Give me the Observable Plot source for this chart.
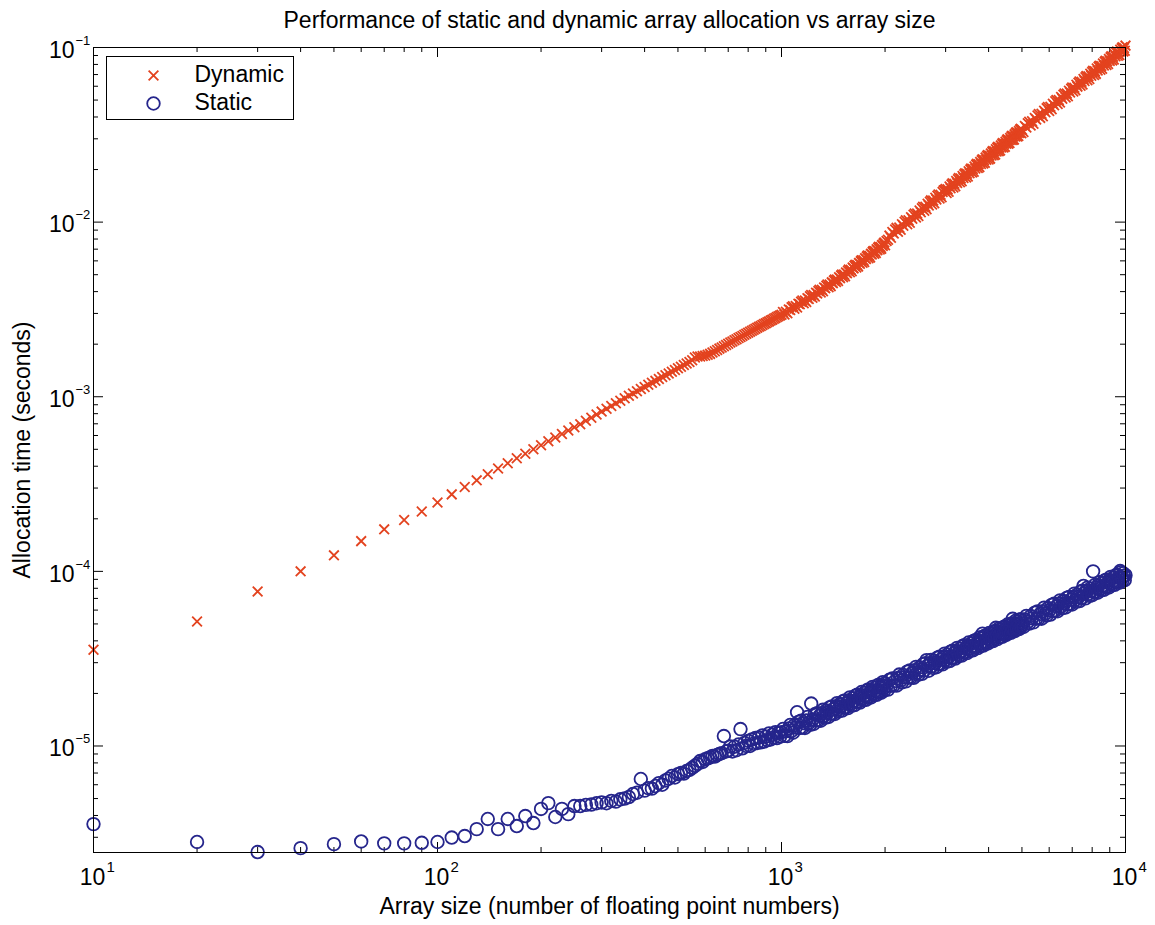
<!DOCTYPE html>
<html><head><meta charset="utf-8">
<script src="https://cdn.jsdelivr.net/npm/d3@7"></script>
<script src="https://cdn.jsdelivr.net/npm/@observablehq/plot@0.6"></script>
<style>body{margin:0;background:#fff} svg{display:block}</style>
</head><body><div id="chart"></div>
<script>
// Array sizes (number of floating point numbers)
const sizes = [
10,20,30,40,50,60,70,80,90,100,110,120,130,140,150,160,170,180,190,200,
210,220,230,240,250,260,270,280,290,300,310,320,330,340,350,360,370,380,390,400,
410,420,430,440,450,460,470,480,490,500,510,520,530,540,550,560,570,580,590,600,
610,620,630,640,650,660,670,680,690,700,710,720,730,740,750,760,770,780,790,800,
810,820,830,840,850,860,870,880,890,900,910,920,930,940,950,960,970,980,990,1000,
1010,1020,1030,1040,1050,1060,1070,1080,1090,1100,1110,1120,1130,1140,1150,1160,1170,1180,1190,1200,
1210,1220,1230,1240,1250,1260,1270,1280,1290,1300,1310,1320,1330,1340,1350,1360,1370,1380,1390,1400,
1410,1420,1430,1440,1450,1460,1470,1480,1490,1500,1510,1520,1530,1540,1550,1560,1570,1580,1590,1600,
1610,1620,1630,1640,1650,1660,1670,1680,1690,1700,1710,1720,1730,1740,1750,1760,1770,1780,1790,1800,
1810,1820,1830,1840,1850,1860,1870,1880,1890,1900,1910,1920,1930,1940,1950,1960,1970,1980,1990,2000,
2020,2040,2060,2080,2100,2120,2140,2160,2180,2200,2220,2240,2260,2280,2300,2320,2340,2360,2380,2400,2420,2440,2460,2480,2500,
2520,2540,2560,2580,2600,2620,2640,2660,2680,2700,2720,2740,2760,2780,2800,2820,2840,2860,2880,2900,2920,2940,2960,2980,3000,
3020,3040,3060,3080,3100,3120,3140,3160,3180,3200,3220,3240,3260,3280,3300,3320,3340,3360,3380,3400,3420,3440,3460,3480,3500,
3520,3540,3560,3580,3600,3620,3640,3660,3680,3700,3720,3740,3760,3780,3800,3820,3840,3860,3880,3900,3920,3940,3960,3980,4000,
4020,4040,4060,4080,4100,4120,4140,4160,4180,4200,4220,4240,4260,4280,4300,4320,4340,4360,4380,4400,4420,4440,4460,4480,4500,
4520,4540,4560,4580,4600,4620,4640,4660,4680,4700,4720,4740,4760,4780,4800,4820,4840,4860,4880,4900,4920,4940,4960,4980,5000,
5050,5100,5150,5200,5250,5300,5350,5400,5450,5500,5550,5600,5650,5700,5750,5800,5850,5900,5950,6000,
6050,6100,6150,6200,6250,6300,6350,6400,6450,6500,6550,6600,6650,6700,6750,6800,6850,6900,6950,7000,
7050,7100,7150,7200,7250,7300,7350,7400,7450,7500,7550,7600,7650,7700,7750,7800,7850,7900,7950,8000,
8050,8100,8150,8200,8250,8300,8350,8400,8450,8500,8550,8600,8650,8700,8750,8800,8850,8900,8950,9000,
9050,9100,9150,9200,9250,9300,9350,9400,9450,9500,9550,9600,9650,9700,9750,9800,9850,9900,9950,10000];

// Dynamic allocation time (milliseconds)
const dynamicMs = [
0.0356,0.0516,0.0767,0.1000,0.1235,0.149,0.174,0.197,0.220,0.248,0.276,0.304,0.332,0.360,0.388,0.416,0.444,0.472,0.500,0.528,
0.556,0.584,0.612,0.640,0.668,0.696,0.728,0.759,0.791,0.822,0.854,0.886,0.917,0.949,0.980,1.012,1.044,1.075,1.107,1.138,
1.170,1.202,1.233,1.265,1.296,1.328,1.360,1.391,1.423,1.454,1.486,1.518,1.549,1.581,1.62,1.68,1.70,1.70,1.71,1.72,
1.74,1.76,1.791,1.823,1.854,1.886,1.917,1.948,1.980,2.011,2.042,2.074,2.105,2.137,2.168,2.199,2.231,2.262,2.293,2.325,
2.356,2.388,2.419,2.450,2.482,2.513,2.544,2.576,2.607,2.639,2.670,2.701,2.733,2.764,2.795,2.827,2.858,2.890,2.921,2.952,
3.061,2.959,3.068,3.010,3.164,3.135,3.250,3.301,3.190,3.305,3.242,3.411,3.381,3.503,3.554,3.433,3.558,3.487,3.668,3.633,
3.764,3.822,3.690,3.823,3.746,3.939,3.900,4.038,4.099,3.958,4.100,4.018,4.225,4.183,4.327,4.391,4.239,4.389,4.300,4.519,
4.474,4.631,4.699,4.535,4.692,4.595,4.829,4.778,4.945,5.015,4.841,5.012,4.905,5.154,5.098,5.274,5.349,5.161,5.340,5.227,
5.491,5.433,5.618,5.696,5.494,5.684,5.563,5.842,5.778,5.975,6.058,5.844,6.044,5.914,6.210,6.140,6.348,6.434,6.203,6.416,
6.279,6.592,6.516,6.736,6.825,6.581,6.805,6.657,6.987,6.905,7.138,7.233,6.972,7.208,7.049,7.398,7.311,7.556,7.655,7.377,
7.80,7.92,8.37,8.13,8.77,8.60,9.08,9.27,8.82,9.31,9.03,9.73,9.52,10.05,10.24,9.72,10.25,9.93,10.68,10.44,11.01,11.20,10.62,11.20,10.83,
11.65,11.40,12.02,12.23,11.61,12.24,11.84,12.73,12.44,13.10,13.32,12.63,13.30,12.84,13.80,13.47,14.17,14.40,13.64,14.35,13.86,14.87,15.20,15.25,15.48,
14.67,15.44,14.91,16.01,15.62,16.43,16.67,15.79,16.60,16.03,17.19,16.77,17.61,17.87,16.91,17.78,17.14,18.38,17.91,18.81,19.06,18.03,18.94,18.26,19.56,
19.07,20.02,20.31,19.21,20.17,19.44,20.84,20.30,21.31,21.60,20.42,21.44,20.65,22.12,21.54,22.60,22.90,21.63,22.70,21.87,23.41,22.78,23.89,24.19,22.84,
23.98,23.10,24.73,24.08,25.25,25.57,24.15,25.34,24.40,26.12,25.41,26.64,26.97,25.46,26.70,25.71,27.50,26.75,28.03,28.37,26.77,28.07,27.01,28.88,28.09,
29.43,29.79,28.11,29.48,28.36,30.34,29.50,30.91,31.27,29.51,30.93,29.75,31.81,30.93,32.38,32.76,30.89,32.38,31.13,33.28,32.34,33.87,34.24,32.29,33.82,
32.86,35.48,34.82,36.79,37.55,35.73,37.77,36.63,39.48,38.69,40.82,41.60,39.53,41.72,40.40,43.49,42.55,44.85,45.64,43.32,
45.73,44.28,47.67,46.65,49.17,50.04,47.50,50.08,48.44,52.08,50.92,53.60,54.50,51.67,54.43,52.59,56.50,55.17,58.04,58.95,
55.90,58.88,56.90,61.12,59.70,62.80,63.80,60.43,63.60,61.41,65.92,64.33,67.61,68.63,64.97,68.33,65.93,70.70,68.95,72.43,
73.53,69.61,73.19,70.63,75.76,73.88,77.61,78.72,74.48,78.28,75.48,80.91,78.85,82.78,83.93,79.36,83.36,80.33,86.06,83.83,
88.01,89.23,84.37,88.62,85.41,91.51,89.14,93.53,94.78,89.57,94.04,90.58,97.01,94.45,99.06,100.33,94.77,99.45,95.76,102.5];

// Static allocation time (microseconds)
const staticUs = [
3.57,2.82,2.47,2.60,2.74,2.84,2.77,2.77,2.79,2.82,2.99,3.05,3.34,3.82,3.34,3.82,3.48,3.97,3.62,4.36,
4.71,3.92,4.36,4.07,4.53,4.53,4.60,4.62,4.70,4.75,4.70,4.85,4.80,4.95,5.00,5.10,5.31,5.40,6.47,5.55,
5.74,5.70,5.90,6.13,6.00,6.35,6.50,6.73,6.60,6.90,7.00,6.95,7.19,7.30,7.50,7.70,7.90,8.20,8.10,8.40,
8.50,8.60,8.77,8.70,8.90,9.00,9.10,11.4,9.30,9.40,9.95,9.30,9.90,9.45,10.2,12.5,9.70,10.4,10.0,10.7,
10.0,10.9,10.3,11.1,10.4,11.2,10.5,11.5,10.6,11.3,10.8,11.8,10.9,11.6,11.2,12.0,11.1,11.9,11.3,12.0,
12.51,11.43,12.14,11.39,12.59,13.19,12.19,11.91,13.15,12.75,15.60,13.74,12.68,13.96,12.75,13.52,12.68,14.00,14.66,13.53,
13.21,17.50,14.12,13.37,15.19,14.00,15.41,14.06,14.90,13.96,15.41,16.12,14.87,14.51,16.00,15.49,14.66,16.64,15.33,16.86,
15.37,16.28,15.25,16.82,17.58,16.21,15.81,17.42,16.86,15.94,18.04,16.61,18.26,16.63,17.60,16.48,18.16,18.97,17.48,17.04,
18.76,18.14,17.14,19.44,17.89,19.65,17.90,18.93,17.72,19.52,20.38,18.77,18.29,20.13,19.46,18.38,20.84,19.17,21.05,19.16,
20.26,18.96,20.87,21.79,20.06,19.54,21.50,20.77,19.62,22.23,20.44,22.45,20.43,21.60,20.19,22.23,23.20,21.35,20.79,22.87,
22.19,21.04,23.94,22.10,24.36,22.25,23.61,22.16,24.49,25.65,23.68,23.15,25.55,24.76,23.46,26.67,24.60,27.09,24.72,26.21,24.58,27.14,28.40,26.21,25.59,
28.22,27.33,25.87,29.38,27.07,29.79,31.00,28.78,26.96,29.75,31.11,28.68,27.99,30.84,29.85,28.24,32.05,29.52,32.46,29.59,31.32,29.34,32.34,33.81,31.15,
30.38,33.46,32.37,30.60,34.71,31.95,35.12,31.99,33.85,31.68,34.91,36.48,33.60,32.75,36.05,34.86,32.94,37.35,34.37,37.76,34.38,36.37,34.03,37.48,39.14,
36.03,35.11,38.63,37.34,35.27,39.98,36.77,40.38,36.75,38.86,36.34,40.02,41.77,38.44,37.45,41.19,44.00,37.59,42.59,39.15,42.99,39.11,41.34,38.65,42.55,
44.40,40.85,39.78,43.74,42.24,39.89,45.18,41.52,45.57,47.50,43.80,40.94,45.05,47.00,43.23,42.08,46.27,44.67,42.17,47.75,43.88,48.15,43.78,46.25,43.22,
47.55,49.59,45.61,44.38,48.78,47.09,44.44,50.31,46.22,53.50,46.10,48.68,45.48,50.03,52.17,47.96,46.67,51.29,49.50,46.70,52.86,48.55,53.25,48.41,51.12,
48.00,53.07,55.62,51.39,50.25,55.49,53.81,51.01,58.01,53.52,58.98,53.85,57.12,53.59,59.19,61.98,57.21,55.89,61.66,59.75,
56.59,64.29,59.27,65.24,59.52,63.07,59.12,65.25,68.26,62.96,61.46,67.75,65.59,62.08,70.48,64.93,71.44,65.13,68.97,64.62,
71.26,74.50,68.67,66.99,73.80,71.40,67.54,76.63,70.55,77.57,82.50,74.81,70.04,77.20,80.68,74.33,72.47,79.80,77.18,72.96,
100.0,76.14,83.67,76.20,80.62,75.44,83.12,86.82,79.94,77.91,85.75,82.89,78.33,88.80,81.69,89.73,81.69,86.39,80.81,89.00,
92.92,85.53,83.33,91.67,88.58,83.68,94.82,87.19,95.74,87.12,92.10,86.13,100.5,98.97,91.07,88.69,97.55,94.23,88.99,95.10];

const seriesNames = ["Dynamic", "Static"];
const seriesColors = ["#e3431f", "#25258c"];
const xTickValues = [10, 100, 1000, 10000];
const xTickExps = ["1", "2", "3", "4"];
const yTickValues = [1e-5, 1e-4, 1e-3, 1e-2, 1e-1];
const yTickExps = ["\u22125", "\u22124", "\u22123", "\u22122", "\u22121"];
const mantissas = [2, 3, 4, 5, 6, 7, 8, 9];
const xMinor = [10, 100, 1000].flatMap(d => mantissas.map(m => m * d));
const yMinor = [1e-6, 1e-5, 1e-4, 1e-3, 1e-2].flatMap(d => mantissas.map(m => m * d)).filter(v => v >= 2.46e-6);

const titleText = "Performance of static and dynamic array allocation vs array size";
const xLabel = "Array size (number of floating point numbers)";
const yLabel = "Allocation time (seconds)";

// unit conversion to seconds
const dynRows = sizes.map((s, i) => ({size: s, time: dynamicMs[i] / 1e3}));
const statRows = sizes.map((s, i) => ({size: s, time: staticUs[i] / 1e6}));

const W = 1155, H = 925;
const mL = 93, mR = 30, mT = 47, mB = 73;
const fw = W - mL - mR, fh = H - mT - mB;
const major = 10, minor = 5;
const T = {lineAnchor: "middle", fontSize: 23};

const chart = Plot.plot({
  width: W, height: H,
  marginLeft: mL, marginRight: mR, marginTop: mT, marginBottom: mB,
  style: {fontFamily: "'Liberation Sans', Arial, Helvetica, sans-serif", fontSize: "23px", background: "#fff", color: "#000"},
  x: {type: "log", domain: [10, 10000], axis: null},
  y: {type: "log", domain: [2.455e-6, 0.1], axis: null},
  marks: [
    // ticks (inward, on all four sides)
    Plot.tickX(xTickValues, {x: d => d, insetTop: fh - major, stroke: "#000"}),
    Plot.tickX(xTickValues, {x: d => d, insetBottom: fh - major, stroke: "#000"}),
    Plot.tickX(xMinor, {x: d => d, insetTop: fh - minor, stroke: "#000"}),
    Plot.tickX(xMinor, {x: d => d, insetBottom: fh - minor, stroke: "#000"}),
    Plot.tickY(yTickValues, {y: d => d, insetRight: fw - major, stroke: "#000"}),
    Plot.tickY(yTickValues, {y: d => d, insetLeft: fw - major, stroke: "#000"}),
    Plot.tickY(yMinor, {y: d => d, insetRight: fw - minor, stroke: "#000"}),
    Plot.tickY(yMinor, {y: d => d, insetLeft: fw - minor, stroke: "#000"}),
    // data
    Plot.dot(dynRows, {x: "size", y: "time", symbol: "times", r: 4.5, stroke: seriesColors[0], strokeWidth: 1.8}),
    Plot.dot(statRows, {x: "size", y: "time", symbol: "circle", r: 6.3, stroke: seriesColors[1], strokeWidth: 1.8, fill: "none"}),
    Plot.frame({stroke: "#000", strokeWidth: 1}),
    // tick labels
    Plot.text(xTickValues, {...T, x: d => d, text: () => "10", frameAnchor: "bottom", dy: 25, dx: -1}),
    Plot.text(xTickValues, {...T, x: d => d, text: (d, i) => xTickExps[i], frameAnchor: "bottom", dy: 15, dx: 13, textAnchor: "start", fontSize: 15}),
    Plot.text(yTickValues, {...T, y: d => d, text: () => "10", frameAnchor: "left", dx: -19, dy: 3, textAnchor: "end"}),
    Plot.text(yTickValues, {...T, y: d => d, text: (d, i) => yTickExps[i], frameAnchor: "left", dx: -18, dy: -7, textAnchor: "start", fontSize: 13}),
    // titles
    Plot.text([titleText], {...T, text: d => d, frameAnchor: "top", dy: -27}),
    Plot.text([xLabel], {...T, text: d => d, frameAnchor: "bottom", dy: 54}),
    Plot.text([yLabel], {...T, text: d => d, frameAnchor: "left", dx: -71, rotate: -90, textAnchor: "middle"}),
    // legend
    Plot.frame({insetLeft: 13, insetTop: 9, insetRight: fw - 200, insetBottom: fh - 72, fill: "#fff", stroke: "#000"}),
    Plot.dot([seriesNames[0]], {frameAnchor: "top-left", dx: 60, dy: 28, symbol: "times", r: 4.5, stroke: seriesColors[0], strokeWidth: 1.8}),
    Plot.dot([seriesNames[1]], {frameAnchor: "top-left", dx: 60, dy: 56, symbol: "circle", r: 6.3, stroke: seriesColors[1], strokeWidth: 1.8, fill: "none"}),
    Plot.text([seriesNames[0]], {...T, text: d => d, frameAnchor: "top-left", dx: 101, dy: 27, textAnchor: "start"}),
    Plot.text([seriesNames[1]], {...T, text: d => d, frameAnchor: "top-left", dx: 101, dy: 55, textAnchor: "start"})
  ]
});
document.getElementById("chart").appendChild(chart);
</script>
</body></html>
